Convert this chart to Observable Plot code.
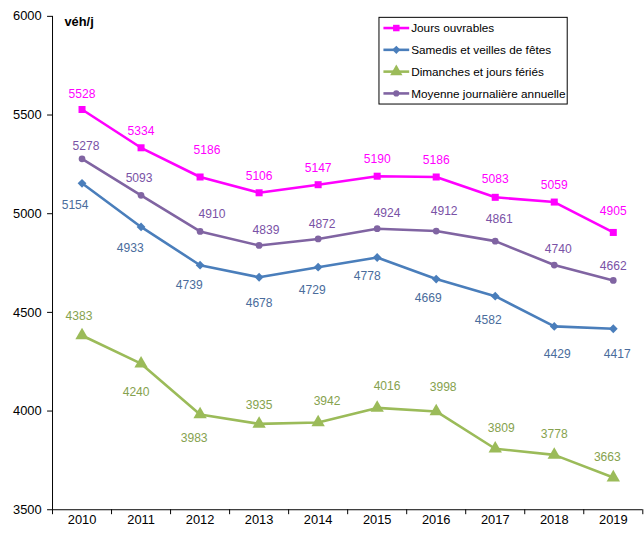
<!DOCTYPE html>
<html>
<head>
<meta charset="utf-8">
<script src="https://cdn.jsdelivr.net/npm/d3@7"></script>
<script src="https://cdn.jsdelivr.net/npm/@observablehq/plot@0.6"></script>
<style>
  html, body { margin: 0; padding: 0; background: #fff; overflow: hidden; }
  #chart { width: 644px; overflow-x: hidden; }
  #chart svg { display: block; }
</style>
</head>
<body>
<div id="chart"></div>
<script>
// ---- Data ----
const years = [2010, 2011, 2012, 2013, 2014, 2015, 2016, 2017, 2018, 2019];
const seriesNames = [
  "Jours ouvrables",
  "Samedis et veilles de fêtes",
  "Dimanches et jours fériés",
  "Moyenne journalière annuelle"
];
const joursOuvrables = [5528, 5334, 5186, 5106, 5147, 5190, 5186, 5083, 5059, 4905];
const samedis        = [5154, 4933, 4739, 4678, 4729, 4778, 4669, 4582, 4429, 4417];
const dimanches      = [4383, 4240, 3983, 3935, 3942, 4016, 3998, 3809, 3778, 3663];
const moyenne        = [5278, 5093, 4910, 4839, 4872, 4924, 4912, 4861, 4740, 4662];
const yTicks = [3500, 4000, 4500, 5000, 5500, 6000];
const unitLabel = "véh/j";

// ---- Styling / label placement (pixel nudges, kept apart from data) ----
const styles = [
  { values: joursOuvrables, color: "#FF00FF", text: "#FF00FF", symbol: "square",   r: 4.0,
    dx: [0, 0, 7, 0, 0, 0, 0, 0, 0, 0],
    dy: [-16, -17, -27, -17, -17, -17, -17, -18, -17, -22] },
  { values: samedis, color: "#4A7EBB", text: "#4A6C9C", symbol: "diamond2", r: 4.0,
    dx: [-7, -11, -11, 0, -6, -10, -8, -7, 3, 4],
    dy: [22, 21, 20, 26, 23, 19, 19, 24, 28, 26] },
  { values: dimanches, color: "#9BBB59", text: "#86A24E", symbol: "triangle", r: 5.0,
    dx: [-3, -5, -6, 0, 9, 10, 7, 6, 0, -6],
    dy: [-20, 29, 24, -19, -22, -22, -25, -21, -21, -21] },
  { values: moyenne, color: "#8064A2", text: "#7A52A6", symbol: "circle", r: 3.4,
    dx: [4, -2, 12, 7, 4, 10, 8, 4, 4, 0],
    dy: [-13, -17, -17, -15, -15, -16, -20, -22, -16, -14] }
];

const boundaries = d3.range(years.length + 1).map(i => years[0] - 0.5 + i);

const marks = [
  Plot.axisY({ ticks: yTicks, tickSize: 5, tickPadding: 6, tickFormat: d => String(d),
               fontSize: 13, color: "#000", stroke: "#000", label: null }),
  Plot.axisX({ ticks: boundaries, tickSize: 5, tickFormat: () => "", stroke: "#000", label: null }),
  Plot.text(years, { x: d => d, frameAnchor: "bottom", dy: 14, text: d => String(d),
                     fontSize: 13, fill: "#000" }),
  Plot.ruleX([boundaries[0]], { y1: yTicks[0], y2: yTicks[yTicks.length - 1], stroke: "#000", strokeWidth: 1 }),
  Plot.ruleY([yTicks[0]], { stroke: "#000", strokeWidth: 1 })
];

styles.forEach((s, si) => {
  const data = years.map((yr, i) => ({ year: yr, value: s.values[i], series: seriesNames[si] }));
  marks.push(Plot.line(data, { x: "year", y: "value", stroke: s.color, strokeWidth: 2.6 }));
  marks.push(Plot.dot(data, { x: "year", y: "value", symbol: s.symbol, r: s.r, fill: s.color, stroke: "none" }));
});
styles.forEach((s, si) => {
  years.forEach((yr, i) => {
    marks.push(Plot.text([{ year: yr, value: s.values[i] }], {
      x: "year", y: "value", text: d => String(d.value),
      dx: s.dx[i], dy: s.dy[i], fill: s.text, fontSize: 12.2
    }));
  });
});
marks.push(Plot.text([unitLabel], { frameAnchor: "top-left", textAnchor: "start",
  dx: 12, dy: 1, fontWeight: "bold", fontSize: 13, fill: "#000" }));

const chart = Plot.plot({
  width: 650,
  height: 537,
  marginLeft: 52.5,
  marginRight: 1.7,
  marginTop: 16,
  marginBottom: 23,
  x: { domain: [boundaries[0], boundaries[boundaries.length - 1]], axis: null, label: null },
  y: { domain: [yTicks[0], yTicks[yTicks.length - 1]], axis: null, label: null },
  style: { fontFamily: "'Liberation Sans', Arial, sans-serif", background: "#fff", color: "#000" },
  marks
});
document.getElementById("chart").appendChild(chart);

// ---- Legend (drawn inside the svg) ----
const svg = d3.select(chart);
const lg = svg.append("g").attr("font-family", "'Liberation Sans', Arial, sans-serif")
  .attr("text-anchor", "start");
lg.append("rect").attr("x", 382.5).attr("y", 17.5).attr("width", 190).attr("height", 87.5)
  .attr("fill", "#fff").attr("stroke", "#000").attr("stroke-width", 1);
const symMap = { square: d3.symbolSquare, diamond2: d3.symbolDiamond2, triangle: d3.symbolTriangle, circle: d3.symbolCircle };
styles.forEach((s, i) => {
  const cy = 28.3 + i * 22;
  lg.append("line").attr("x1", 387).attr("x2", 413).attr("y1", cy).attr("y2", cy)
    .attr("stroke", s.color).attr("stroke-width", 2.6);
  lg.append("path").attr("transform", `translate(400,${cy})`)
    .attr("d", d3.symbol(symMap[s.symbol], Math.PI * s.r * s.r * 0.85)())
    .attr("fill", s.color);
  lg.append("text").attr("x", 415).attr("y", cy).attr("dy", "0.35em")
    .attr("text-anchor", "start")
    .attr("font-size", 11.9).attr("fill", "#000").text(seriesNames[i]);
});
</script>
</body>
</html>
